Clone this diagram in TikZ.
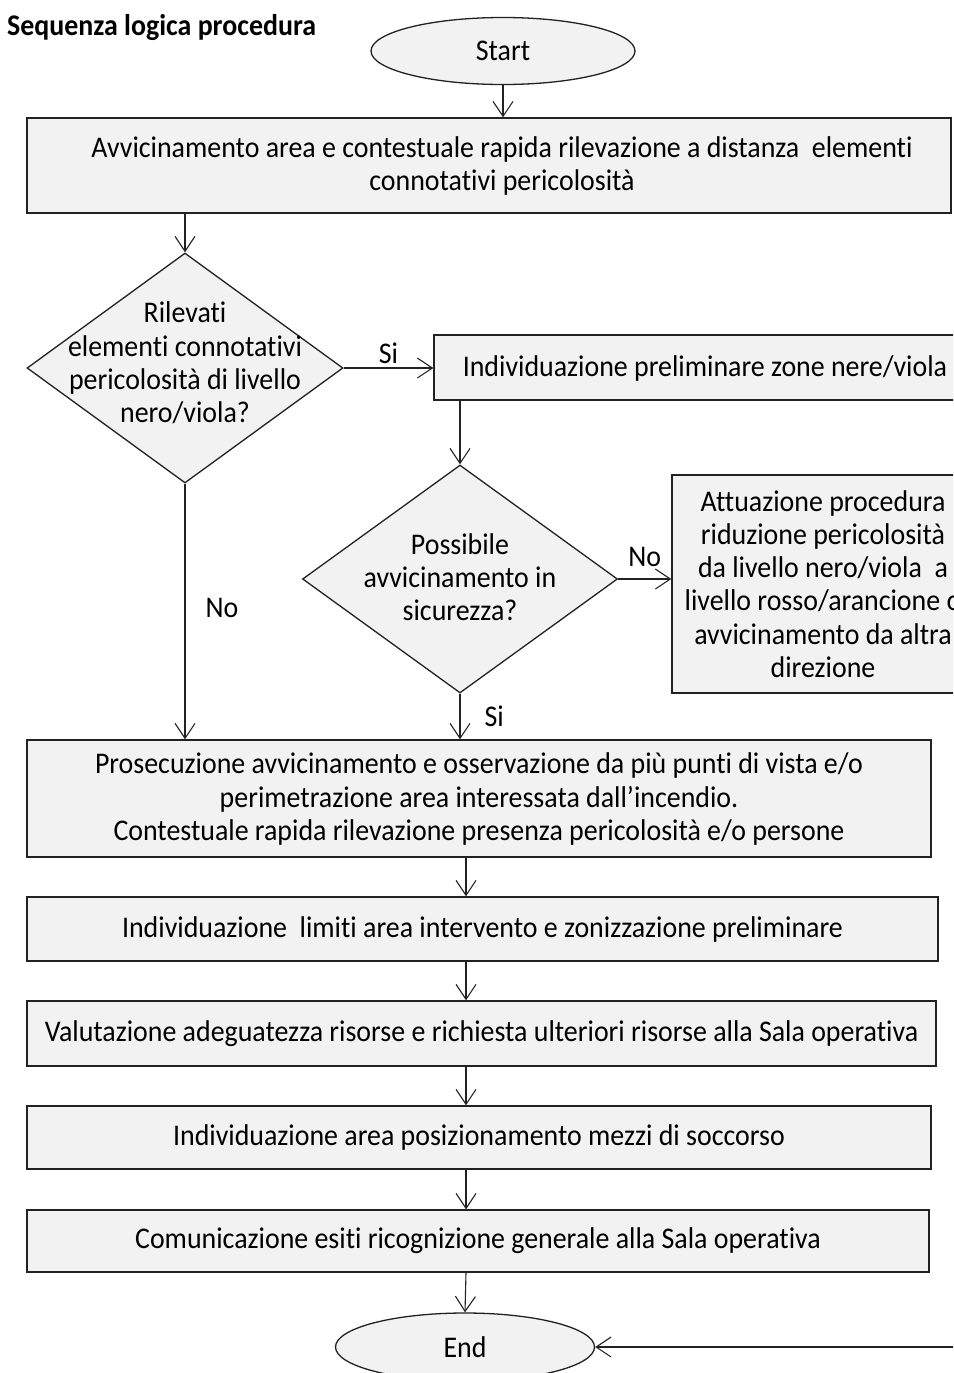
\documentclass[tikz,border=0pt]{standalone}
\usepackage{fontspec}
\setmainfont{Carlito}[FakeStretch=0.93,Ligatures=NoCommon]
\usetikzlibrary{shapes.geometric,arrows.meta}
\definecolor{boxfill}{HTML}{F2F2F2}
\definecolor{edgecol}{HTML}{222222}
\begin{document}
\begin{tikzpicture}[x=1pt,y=-1pt,
  every node/.style={font=\fontsize{30}{33.3}\selectfont},
  procbox/.style={draw=edgecol,line width=1.3pt,fill=boxfill,rectangle,inner sep=0pt,align=center},
  termnode/.style={draw=edgecol,line width=1.3pt,fill=boxfill,ellipse,inner sep=0pt},
  decnode/.style={draw=edgecol,line width=1.3pt,fill=boxfill,diamond,inner sep=0pt},
  plaintext/.style={inner sep=0pt,align=center},
  flow/.style={draw=edgecol,line width=1.1pt,-{Straight Barb[length=15pt,width=20pt,line width=1.1pt]}}]
\useasboundingbox (0,0) rectangle (953,1373);
\clip (0,0) rectangle (953,1373);
\fill[white] (0,0) rectangle (953,1373);
% title
\node[plaintext,anchor=west,font=\fontsize{30}{33}\selectfont\bfseries] (title) at (7,28) {Sequenza logica procedura};
% start
\node[termnode,minimum width=264pt,minimum height=67pt] (start) at (503,51) {Start};
% box 1
\node[procbox,minimum width=924pt,minimum height=95pt] (b1) at (489,165.5) {};
\node[plaintext] (t1) at (502,166) {Avvicinamento area e contestuale rapida rilevazione a distanza\ \ elementi\\connotativi pericolosità};
% diamond 1
\node[decnode,minimum width=316pt,minimum height=230pt] (d1) at (185,368) {};
\node[plaintext] (td1) at (185,363) {Rilevati\\elementi connotativi\\pericolosità di livello\\nero/viola?};
% box 2
\node[procbox,minimum width=542pt,minimum height=65pt] (b2) at (705,367.5) {};
\node[plaintext] (t2) at (705,368) {Individuazione preliminare zone nere/viola};
% diamond 2
\node[decnode,minimum width=315pt,minimum height=228pt] (d2) at (460,579) {};
\node[plaintext] (td2) at (460,577) {Possibile\\avvicinamento in\\sicurezza?};
% box 3
\node[procbox,minimum width=302pt,minimum height=218pt] (b3) at (823,584) {};
\node[plaintext] (t3) at (823,584) {Attuazione procedura\\riduzione pericolosità\\da livello nero/viola\ \ a\\livello rosso/arancione o\\avvicinamento da altra\\direzione};
% box 4
\node[procbox,minimum width=904pt,minimum height=117pt] (b4) at (479,798.5) {};
\node[plaintext] (t4) at (479,799) {Prosecuzione avvicinamento e osservazione da più punti di vista e/o\\perimetrazione area interessata dall’incendio.\\Contestuale rapida rilevazione presenza pericolosità e/o persone};
% box 5
\node[procbox,minimum width=911pt,minimum height=64pt] (b5) at (482.5,929) {Individuazione\ \ limiti area intervento e zonizzazione preliminare};
% box 6
\node[procbox,minimum width=909pt,minimum height=65pt] (b6) at (481.5,1033.5) {Valutazione adeguatezza risorse e richiesta ulteriori risorse alla Sala operativa};
% box 7
\node[procbox,minimum width=904pt,minimum height=63pt] (b7) at (479,1137.5) {Individuazione area posizionamento mezzi di soccorso};
% box 8
\node[procbox,minimum width=902pt,minimum height=62pt] (b8) at (478,1241) {Comunicazione esiti ricognizione generale alla Sala operativa};
% end
\node[termnode,minimum width=259pt,minimum height=68pt] (end) at (465,1347) {End};
% helper coordinates
\coordinate (col) at (466,0);
\coordinate (endsrc) at (965,1347);
% connectors
\draw[flow] (start.south) -- (start.south |- b1.north);
\draw[flow] (d1.north |- b1.south) -- (d1.north);
\draw[flow] (d1.east) -- (d1.east -| b2.west) node[midway,above=4pt,plaintext] (lsi1) {Si};
\draw[flow] (d2.east) -- (d2.east -| b3.west) node[midway,above=12pt,plaintext] (lno2) {No};
\draw[flow] (d2.north |- b2.south) -- (d2.north);
\draw[flow] (d2.south) -- (d2.south |- b4.north) node[midway,right=24pt,plaintext] (lsi2) {Si};
\draw[flow] (d1.south) -- (d1.south |- b4.north);
\node[plaintext] (lno1) at (222,608) {No};
\draw[flow] (col |- b4.south) -- (col |- b5.north);
\draw[flow] (col |- b5.south) -- (col |- b6.north);
\draw[flow] (col |- b6.south) -- (col |- b7.north);
\draw[flow] (col |- b7.south) -- (col |- b8.north);
\draw[flow] (col |- b8.south) -- (end.north);
\draw[flow] (endsrc) -- (end.east);
\end{tikzpicture}
\end{document}
